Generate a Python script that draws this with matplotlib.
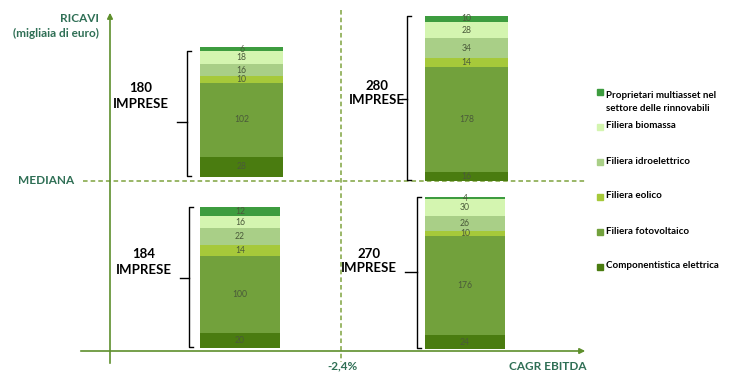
import matplotlib.pyplot as plt

# dati (dal basso verso l'alto)
categorie = ['Componentistica elettrica', 'Filiera fotovoltaico', 'Filiera eolico',
             'Filiera idroelettrico', 'Filiera biomassa',
             'Proprietari multiasset nel\nsettore delle rinnovabili']
colori = ['#4a7c10', '#72a13c', '#a6c93a', '#a9cf87', '#d4f5b0', '#3d9c3f']

q_alto_sx = [28, 102, 10, 16, 18, 6]
q_alto_dx = [16, 178, 14, 34, 28, 10]
q_basso_sx = [20, 100, 14, 22, 16, 12]
q_basso_dx = [24, 176, 10, 26, 30, 4]
imprese = [180, 280, 184, 270]

W, H = 738, 388
fig = plt.figure(figsize=(W / 100, H / 100), dpi=100)
plt.rcParams['font.family'] = ['Lato', 'DejaVu Sans']

# asse di sfondo in pixel
bg = fig.add_axes([0, 0, 1, 1])
bg.set_xlim(0, W)
bg.set_ylim(H, 0)
bg.axis('off')

verde_asse = '#5e8f2c'
verde_testo = '#2f6f55'

# assi principali
bg.annotate('', xy=(110, 10), xytext=(110, 366),
            arrowprops=dict(arrowstyle='-|>', color=verde_asse, lw=1.2, mutation_scale=8))
bg.annotate('', xy=(588, 351), xytext=(78, 351),
            arrowprops=dict(arrowstyle='-|>', color=verde_asse, lw=1.2, mutation_scale=8))
# mediane
bg.plot([83, 585], [181, 181], ls=(0, (3, 2)), color='#7ea33e', lw=1.1)
bg.plot([341, 341], [10, 362], ls=(0, (3, 2)), color='#7ea33e', lw=1.1)

bg.text(99, 18, 'RICAVI', ha='right', va='center', fontsize=8.5, fontweight='bold', color=verde_testo)
bg.text(99, 33, '(migliaia di euro)', ha='right', va='center', fontsize=8.5, fontweight='bold', color=verde_testo)
bg.text(18, 181, 'MEDIANA', ha='left', va='center', fontsize=8.5, fontweight='bold', color=verde_testo)
bg.text(343, 366, '-2,4%', ha='center', va='center', fontsize=8.5, fontweight='bold', color=verde_testo)
bg.text(548, 366, 'CAGR EBITDA', ha='center', va='center', fontsize=8.5, fontweight='bold', color=verde_testo)

quadranti = [
    (q_alto_sx, (200, 283, 47, 177), (187, 51, 176, 122, 177), (141, 96)),
    (q_alto_dx, (425, 508, 16, 181), (407, 16, 180, 99, 402), (377, 93)),
    (q_basso_sx, (200, 280, 207, 348), (189, 207, 347, 278, 180), (144, 262)),
    (q_basso_dx, (425, 505, 197, 349), (417, 197, 348, 272, 405), (369, 261)),
]

for (valori, (x0, x1, y0, y1), (bx, by0, by1, bm, bt), (tx, ty)), n in zip(quadranti, imprese):
    ax = fig.add_axes([x0 / W, 1 - y1 / H, (x1 - x0) / W, (y1 - y0) / H])
    base = 0
    for v, c in zip(valori, colori):
        ax.bar(0, v, bottom=base, width=1, color=c, edgecolor='none')
        ax.text(0, base + v / 2, str(v), ha='center', va='center', fontsize=6.2, color='#4a5a3a')
        base += v
    ax.set_xlim(-0.5, 0.5)
    ax.set_ylim(0, base)
    ax.axis('off')

    # parentesi graffa
    bg.plot([bx + 4, bx, bx, bx + 4], [by0, by0, by1, by1], color='black', lw=1)
    bg.plot([bt, bx], [bm, bm], color='black', lw=1)
    bg.text(tx, ty, f'{n}\nIMPRESE', ha='center', va='center', fontsize=9.5,
            fontweight='bold', linespacing=1.3)

# legenda
leg_y = [92, 127, 162, 197, 232, 267]
for i, yy in enumerate(leg_y):
    k = len(categorie) - 1 - i
    bg.add_patch(plt.Rectangle((597, yy - 3), 6, 6, color=colori[k]))
    bg.text(606, yy - 1, categorie[k], ha='left', va='top' if '\n' in categorie[k] else 'center',
            fontsize=7, fontweight='bold', linespacing=1.6)

fig.savefig('out.png', dpi=100)
